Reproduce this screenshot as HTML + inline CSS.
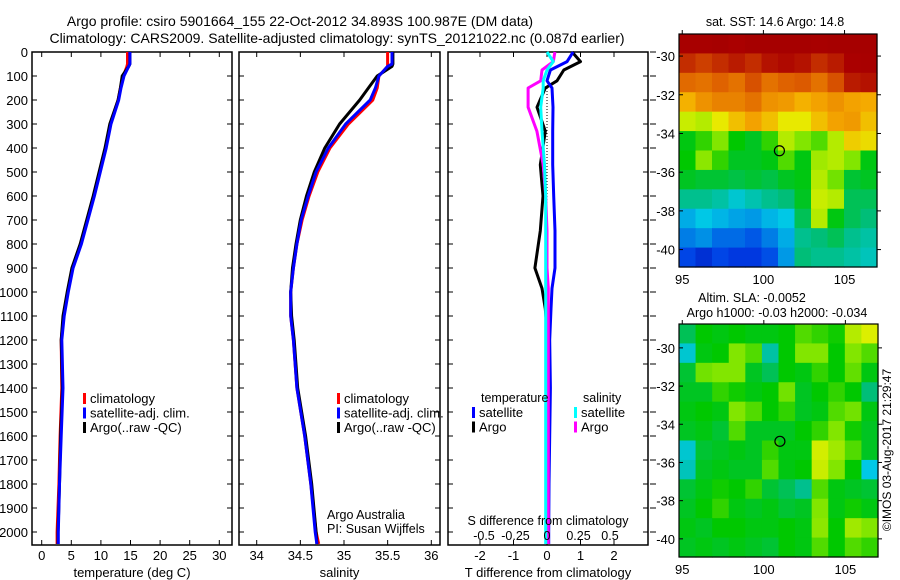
<!DOCTYPE html>
<html><head><meta charset="utf-8">
<style>
html,body{margin:0;padding:0;background:#fff;}
svg{display:block;font-family:"Liberation Sans",sans-serif;}
text{fill:#000;}
</style></head>
<body>
<svg id="fig" width="900" height="580" viewBox="0 0 900 580" xmlns="http://www.w3.org/2000/svg">
<text x="300" y="26" font-size="14" text-anchor="middle">Argo profile: csiro 5901664_155 22-Oct-2012 34.893S 100.987E (DM data)</text>
<text x="337" y="43" font-size="14" text-anchor="middle">Climatology: CARS2009. Satellite-adjusted climatology: synTS_20121022.nc (0.087d earlier)</text>
<g id="g1"></g>
<g id="g2"></g>
<g id="g3"></g>
<g id="g4"></g>
<g id="g5"></g>
<text transform="translate(891,450) rotate(-90)" font-size="12" text-anchor="middle">©IMOS 03-Aug-2017 21:29:47</text>
</svg>
<script>
// ---------- data ----------
const depths = [0,50,60,100,150,200,300,400,500,600,700,800,900,1000,1100,1200,1400,1600,1800,2000,2050];
const tempArgo = [14.9,14.9,14.7,13.6,13.3,12.9,11.5,10.7,9.7,8.7,7.6,6.5,5.1,4.3,3.6,3.3,3.5,3.2,3.0,2.75,2.75];
const tempClim = [14.5,14.5,14.4,13.8,13.3,12.9,11.6,10.8,9.8,8.8,7.7,6.6,5.2,4.4,3.7,3.3,3.4,3.1,2.9,2.6,2.6];
const tempSat  = [14.9,14.9,14.7,13.9,13.4,13.0,11.7,10.9,9.9,8.9,7.8,6.7,5.3,4.5,3.8,3.4,3.6,3.3,3.0,2.8,2.8];
const salArgo = [35.56,35.56,35.55,35.38,35.28,35.18,34.95,34.78,34.66,34.57,34.5,34.45,34.41,34.39,34.4,34.43,34.47,34.56,34.63,34.68,34.69];
const salClim = [35.5,35.5,35.5,35.4,35.38,35.33,35.05,34.84,34.7,34.6,34.52,34.46,34.42,34.39,34.39,34.42,34.46,34.55,34.62,34.68,34.71];
const salSat  = [35.55,35.55,35.5,35.4,35.36,35.3,35.02,34.82,34.68,34.59,34.51,34.46,34.42,34.39,34.39,34.42,34.46,34.55,34.62,34.67,34.69];
const diffDepths = [0,40,75,120,150,230,330,470,600,745,900,985,1070,1200,1400,1600,1800,2000,2050];
const dTArgo = [0.75,1.0,0.5,0.3,-0.05,-0.3,-0.05,-0.2,-0.12,-0.2,-0.36,-0.15,-0.05,0.02,0.03,0.03,0.03,0.03,0.03];
const dTSat  = [0.78,0.6,0.1,0.0,0.15,0.18,0.17,0.17,0.2,0.24,0.24,0.15,0.12,0.08,0.1,0.08,0.06,0.05,0.05];
const dSArgo = [0.063,0.05,-0.04,-0.05,-0.15,-0.15,-0.08,-0.03,-0.01,0.0,0.0,0.01,0.01,0.01,0.01,0.01,0.01,0.01,0.01];
const dSSat  = [0.0,0.05,0.0,-0.03,-0.03,-0.05,-0.04,-0.02,-0.01,-0.01,-0.01,-0.01,-0.01,-0.01,-0.01,-0.01,-0.01,-0.01,-0.01];
const depthTicks = [0,100,200,300,400,500,600,700,800,900,1000,1100,1200,1300,1400,1500,1600,1700,1800,1900,2000];
const tempTicks = [0,5,10,15,20,25,30];
const salTicks = [34,34.5,35,35.5,36];
const salTickLabels = ["34","34.5","35","35.5","36"];
const dTTicks = [-2,-1,0,1,2];
const dSTicks = [-0.5,-0.25,0,0.25,0.5];
const dSTickLabels = ["-0.5","-0.25","0","0.25","0.5"];
const latTicks = [-30,-32,-34,-36,-38,-40];
const lonTicks = [95,100,105];
// SST map grid (colour index 0..1), rows north->south (-28.9..-40.9), cols west->east (94.8..107)
const sstGrid = [
[0.96,0.96,0.97,0.95,0.97,0.97,0.97,0.97,0.96,0.97,0.97,0.97],
[0.9,0.88,0.9,0.92,0.9,0.93,0.94,0.93,0.9,0.92,0.95,0.96],
[0.83,0.82,0.84,0.82,0.86,0.82,0.84,0.85,0.82,0.86,0.92,0.93],
[0.74,0.78,0.8,0.8,0.82,0.78,0.77,0.74,0.76,0.78,0.76,0.75],
[0.62,0.6,0.66,0.72,0.76,0.72,0.66,0.66,0.72,0.76,0.77,0.72],
[0.46,0.5,0.55,0.47,0.45,0.5,0.6,0.55,0.52,0.6,0.7,0.68],
[0.47,0.56,0.5,0.45,0.45,0.46,0.52,0.46,0.58,0.6,0.55,0.46],
[0.45,0.44,0.44,0.43,0.44,0.43,0.45,0.46,0.6,0.54,0.44,0.45],
[0.38,0.38,0.36,0.32,0.35,0.38,0.4,0.45,0.62,0.6,0.42,0.42],
[0.27,0.3,0.28,0.26,0.25,0.28,0.3,0.42,0.6,0.46,0.42,0.4],
[0.22,0.24,0.2,0.2,0.18,0.22,0.27,0.38,0.4,0.42,0.38,0.36],
[0.16,0.12,0.16,0.14,0.14,0.17,0.25,0.4,0.38,0.38,0.36,0.34]];
// SLA map grid
const slaGrid = [
[0.42,0.47,0.46,0.47,0.46,0.46,0.47,0.52,0.5,0.48,0.6,0.64],
[0.32,0.46,0.47,0.55,0.52,0.36,0.47,0.55,0.55,0.47,0.55,0.52],
[0.44,0.54,0.55,0.55,0.45,0.42,0.47,0.46,0.5,0.47,0.53,0.46],
[0.45,0.45,0.5,0.48,0.46,0.47,0.54,0.45,0.47,0.5,0.47,0.4],
[0.46,0.47,0.46,0.55,0.52,0.47,0.5,0.45,0.46,0.52,0.54,0.46],
[0.45,0.46,0.44,0.52,0.45,0.45,0.45,0.47,0.5,0.55,0.48,0.45],
[0.32,0.44,0.45,0.46,0.45,0.5,0.46,0.46,0.63,0.58,0.52,0.45],
[0.34,0.45,0.46,0.45,0.45,0.52,0.46,0.47,0.62,0.55,0.47,0.3],
[0.44,0.46,0.48,0.47,0.5,0.44,0.42,0.38,0.52,0.46,0.45,0.44],
[0.45,0.47,0.5,0.46,0.45,0.46,0.44,0.45,0.55,0.46,0.48,0.46],
[0.46,0.45,0.47,0.47,0.46,0.46,0.47,0.46,0.56,0.47,0.58,0.55],
[0.45,0.46,0.45,0.46,0.45,0.44,0.47,0.46,0.52,0.47,0.52,0.5]];
const sstTitle = "sat. SST: 14.6 Argo: 14.8";
const slaTitle1 = "Altim. SLA: -0.0052";
const slaTitle2 = "Argo h1000: -0.03 h2000: -0.034";
const argoLat = -34.893, argoLon = 100.987;

// ---------- helpers ----------
const NS = "http://www.w3.org/2000/svg";
function mk(parent, tag, attrs){const e=document.createElementNS(NS,tag);for(const k in attrs)e.setAttribute(k,attrs[k]);parent.appendChild(e);return e;}
function txt(parent,x,y,s,size,anchor){const t=mk(parent,'text',{x:x,y:y,'font-size':size,'text-anchor':anchor||'start'});t.textContent=s;return t;}
const top0=52, bot=545;
const yD = d => top0 + d*0.24;

function panel(g,x0,x1,xScale,xTicks,xLabels,xTitle,leftLabels,name){
  const fr=mk(g,'rect',{x:x0,y:top0,width:x1-x0,height:bot-top0,fill:'none',stroke:'#000','stroke-width':1.5});
  
  
  depthTicks.forEach(d=>{
    const y=yD(d);
    mk(g,'line',{x1:x0,y1:y,x2:x0+5,y2:y,stroke:'#000'});
    mk(g,'line',{x1:x1,y1:y,x2:x1-5,y2:y,stroke:'#000'});
    if(leftLabels){const t=txt(g,x0-4,y+5,String(d),13,'end');
      
      }
  });
  xTicks.forEach((v,i)=>{
    const x=xScale(v);
    mk(g,'line',{x1:x,y1:bot,x2:x,y2:bot-5,stroke:'#000'});
    mk(g,'line',{x1:x,y1:top0,x2:x,y2:top0+5,stroke:'#000'});
    const t=txt(g,x,560,xLabels[i],13,'middle');
    
    
  });
  const tt=txt(g,(x0+x1)/2,577,xTitle,13,'middle');
  
  
}
function line(g,xs,ds,xScale,color,name){
  const pts=xs.map((v,i)=>xScale(v).toFixed(1)+','+yD(ds[i]).toFixed(1)).join(' ');
  const p=mk(g,'polyline',{points:pts,fill:'none',stroke:color,'stroke-width':3,'stroke-linejoin':'round'});
  
  
}
function legend(g,x,items,y0){
  items.forEach((it,i)=>{
    const y=y0+i*14.5;
    mk(g,'rect',{x:x,y:y-10,width:3,height:11,fill:it[1]});
    const t=txt(g,x+7,y,it[0],13);
    
    
  });
}

// ---------- panel 1 ----------
const g1=document.getElementById('g1');
const xT = v => 41.7 + v*5.92;
panel(g1,32,232,xT,tempTicks,tempTicks.map(String),'temperature (deg C)',true,'temperature');
line(g1,tempClim,depths,xT,'#f00','temp-climatology-line');
line(g1,tempArgo,depths,xT,'#000','temp-argo-line');
line(g1,tempSat,depths,xT,'#00f','temp-satellite-line');
legend(g1,83,[['climatology','#f00'],['satellite-adj. clim.','#00f'],['Argo(..raw -QC)','#000']],403);

// ---------- panel 2 ----------
const g2=document.getElementById('g2');
const xS = v => 256.7 + (v-34)*87.3;
panel(g2,239,440,xS,salTicks,salTickLabels,'salinity',false,'salinity');
line(g2,salClim,depths,xS,'#f00','sal-climatology-line');
line(g2,salArgo,depths,xS,'#000','sal-argo-line');
line(g2,salSat,depths,xS,'#00f','sal-satellite-line');
legend(g2,337,[['climatology','#f00'],['satellite-adj. clim.','#00f'],['Argo(..raw -QC)','#000']],403);
let t1=txt(g2,327,519,'Argo Australia',12.5);


let t2=txt(g2,327,533,'PI: Susan Wijffels',12.5);



// ---------- panel 3 ----------
const g3=document.getElementById('g3');
const xdT = v => 547 + v*33.5;
const xdS = v => 547 + v*126;
panel(g3,448,648,xdT,dTTicks,dTTicks.map(String),'T difference from climatology',false,'difference');
depthTicks.forEach(d=>{mk(g3,'line',{x1:650,y1:yD(d),x2:656,y2:yD(d),stroke:'#000'});});
mk(g3,'line',{x1:547,y1:yD(150),x2:547,y2:yD(2050),stroke:'#000','stroke-width':1,'stroke-dasharray':'1,2'});
line(g3,dTArgo,diffDepths,xdT,'#000','dT-argo-line');
line(g3,dTSat,diffDepths,xdT,'#00f','dT-satellite-line');
line(g3,dSArgo,diffDepths,xdS,'#f0f','dS-argo-line');
line(g3,dSSat,diffDepths,xdS,'#0ff','dS-satellite-line');
txt(g3,481,402,'temperature',12.5);
txt(g3,583,402,'salinity',12.5);
legend(g3,472,[['satellite','#00f'],['Argo','#000']],417);
legend(g3,574,[['satellite','#0ff'],['Argo','#f0f']],417);
let st=txt(g3,548,525,'S difference from climatology',12.5,'middle');


dSTicks.forEach((v,i)=>{const t=txt(g3,xdS(v),540,dSTickLabels[i],12.5,'middle');
  
  });

// ---------- maps ----------
const stops=[[0,[0,0,140]],[0.15,[0,60,230]],[0.3,[0,200,230]],[0.4,[0,190,120]],[0.47,[0,200,0]],[0.55,[130,230,0]],[0.65,[230,240,0]],[0.75,[245,170,0]],[0.85,[220,90,0]],[0.95,[170,0,0]],[1,[160,0,0]]];
function cmap(v){
  for(let i=1;i<stops.length;i++){if(v<=stops[i][0]){const a=stops[i-1],b=stops[i];const f=(v-a[0])/(b[0]-a[0]);
    const c=a[1].map((q,k)=>Math.round(q+(b[1][k]-q)*f));return 'rgb('+c.join(',')+')';}}
  return 'rgb(160,0,0)';
}
function drawMap(g,grid,x0,x1,y0,y1,latTop,latBot,name){
  const lonL=94.8, lonR=107.0;
  const xL=v=>x0+(v-lonL)/(lonR-lonL)*(x1-x0);
  const yL=v=>y0+(latTop-v)/(latTop-latBot)*(y1-y0);
  const nr=grid.length,nc=grid[0].length;
  const cw=(x1-x0)/nc,ch=(y1-y0)/nr;
  grid.forEach((row,r)=>row.forEach((v,c)=>{
    const e=mk(g,'rect',{x:(x0+c*cw).toFixed(2),y:(y0+r*ch).toFixed(2),width:(cw+0.6).toFixed(2),height:(ch+0.6).toFixed(2),fill:cmap(v)});
    
    
  }));
  mk(g,'rect',{x:x0,y:y0,width:x1-x0,height:y1-y0,fill:'none',stroke:'#000','stroke-width':1.2});
  latTicks.forEach(v=>{const y=yL(v);
    mk(g,'line',{x1:x0,y1:y,x2:x0+4,y2:y,stroke:'#000'});
    mk(g,'line',{x1:x1,y1:y,x2:x1+4,y2:y,stroke:'#000'});
    const t=txt(g,x0-4,y+5,String(v),13,'end');
    
    });
  lonTicks.forEach(v=>{const x=xL(v);
    mk(g,'line',{x1:x,y1:y0,x2:x,y2:y0-4,stroke:'#000'});
    const t=txt(g,x,y1+17,String(v),13,'middle');
    
    });
  const c=mk(g,'circle',{cx:xL(argoLon),cy:yL(argoLat),r:5,fill:'none',stroke:'#000','stroke-width':1.2});
  
  
}
const g4=document.getElementById('g4');
drawMap(g4,sstGrid,679,877,34,267,-28.86,-40.9,'sst');
let s1=txt(g4,775,26,sstTitle,12.5,'middle');


const g5=document.getElementById('g5');
drawMap(g5,slaGrid,679,878,324,557,-28.75,-40.95,'sla');
let s2=txt(g5,752,302,slaTitle1,12.5,'middle');


let s3=txt(g5,777,317,slaTitle2,12.5,'middle');


</script>
</body></html>
